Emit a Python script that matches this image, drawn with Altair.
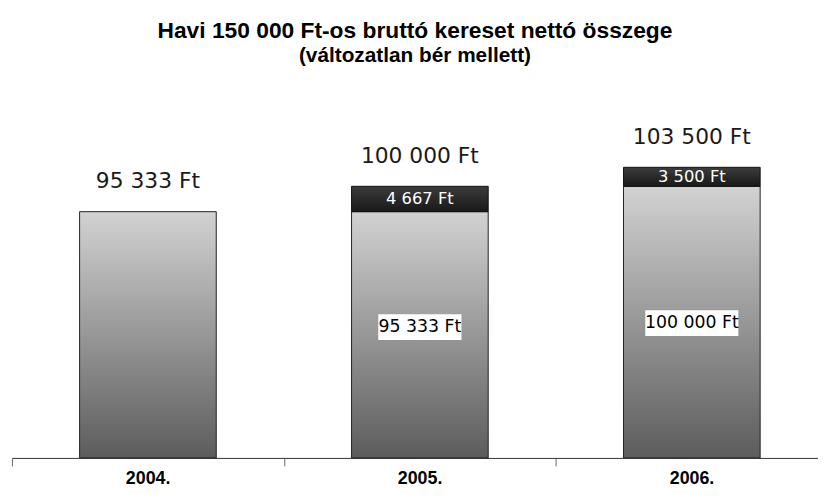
import altair as alt
import pandas as pd

# --- data ---
years = ["2004.", "2005.", "2006."]
base_values = [95333, 95333, 100000]
increments = [0, 4667, 3500]
total_labels = ["95 333 Ft", "100 000 Ft", "103 500 Ft"]
base_labels = ["", "95 333 Ft", "100 000 Ft"]
increment_labels = ["", "4 667 Ft", "3 500 Ft"]
base_label_pos = [None, 74100, 74800]
axis_floor = 50000
axis_ceiling = 120000
visible_categories = 2.964   # the category axis runs on past the right edge

df = pd.DataFrame({
    "year": years,
    "base": base_values,
    "inc": increments,
    "toplabel": total_labels,
    "blabel": base_labels,
    "ilabel": increment_labels,
    "bpos": base_label_pos,
})
df["pos"] = [i + 0.5 for i in range(len(years))]
df["total"] = df["base"] + df["inc"]
df["lo"] = axis_floor

yscale = alt.Scale(domain=[axis_floor, axis_ceiling], zero=False, nice=False)
xscale = alt.Scale(domain=[0, visible_categories], nice=False, zero=False, padding=0)
label_expr = "[" + ",".join("'" + y + "'" for y in years) + "][datum.value]"

xaxis = alt.Axis(values=list(range(len(years))), labelExpr=label_expr,
                 labelOffset=137, labelFlush=False, labelOverlap=False,
                 labelAngle=0, title=None)
xenc = alt.X("pos:Q", scale=xscale, axis=xaxis, title=None)

light = alt.Gradient(
    gradient="linear",
    stops=[alt.GradientStop(color="#d2d2d2", offset=0),
           alt.GradientStop(color="#5c5c5c", offset=1)],
    x1=0, x2=0, y1=0, y2=1,
)
dark = alt.Gradient(
    gradient="linear",
    stops=[alt.GradientStop(color="#3c3c3c", offset=0),
           alt.GradientStop(color="#181818", offset=1)],
    x1=0, x2=0, y1=0, y2=1,
)

base = alt.Chart(df)

base_bars = base.mark_bar(size=138, fill=light, stroke="#222222", strokeWidth=1).encode(
    x=xenc,
    y=alt.Y("base:Q", scale=yscale, axis=None),
    y2="lo:Q",
)

inc_bars = base.transform_filter("datum.inc > 0").mark_bar(
    size=138, fill=dark, stroke="#111111", strokeWidth=1
).encode(
    x=xenc,
    y=alt.Y("total:Q", scale=yscale, axis=None),
    y2="base:Q",
)

top_text = base.mark_text(
    dy=-31, fontSize=22, font="DejaVu Sans", color="#1a1a1a", baseline="middle"
).encode(
    x=xenc,
    y=alt.Y("total:Q", scale=yscale, axis=None),
    text="toplabel:N",
)

inc_text = base.transform_filter("datum.inc > 0").transform_calculate(
    mid="(datum.base + datum.total) / 2"
).mark_text(
    fontSize=16.5, font="DejaVu Sans", color="white", baseline="middle"
).encode(
    x=xenc,
    y=alt.Y("mid:Q", scale=yscale, axis=None),
    text="ilabel:N",
)

boxes = base.transform_filter("datum.blabel != ''").transform_calculate(
    boxw="length(datum.blabel) * 10 - 6"
).mark_tick(thickness=26, color="white", opacity=1, orient="horizontal").encode(
    x=xenc,
    y=alt.Y("bpos:Q", scale=yscale, axis=None),
    size=alt.Size("boxw:Q", scale=None, legend=None),
)

inner_text = base.transform_filter("datum.blabel != ''").mark_text(
    fontSize=17.5, font="DejaVu Sans", color="black", baseline="middle"
).encode(
    x=xenc,
    y=alt.Y("bpos:Q", scale=yscale, axis=None),
    text="blabel:N",
)

chart = alt.layer(
    base_bars, inc_bars, top_text, inc_text, boxes, inner_text
).properties(
    width=814,
    height=384,
    autosize=alt.AutoSizeParams(type="none"),
    padding={"left": 4, "top": 68, "right": 0, "bottom": 28},
    title=alt.TitleParams(
        text="Havi 150 000 Ft-os bruttó kereset nettó összege",
        subtitle="(változatlan bér mellett)",
        font="Liberation Sans", fontSize=23, fontWeight="bold", color="black",
        subtitleFont="Liberation Sans", subtitleFontSize=21,
        subtitleFontWeight="bold", subtitleColor="black",
        subtitlePadding=2, anchor="middle", offset=12,
    ),
).configure_view(stroke=None).configure_axis(
    grid=False,
    domainColor="#333333",
    domainWidth=1,
    tickColor="#666666",
    tickSize=8,
    labelFont="Liberation Sans",
    labelFontWeight="bold",
    labelFontSize=18,
    labelColor="black",
    labelPadding=4,
)

chart.save("out.html", embed_options={"renderer": "svg", "actions": False})
